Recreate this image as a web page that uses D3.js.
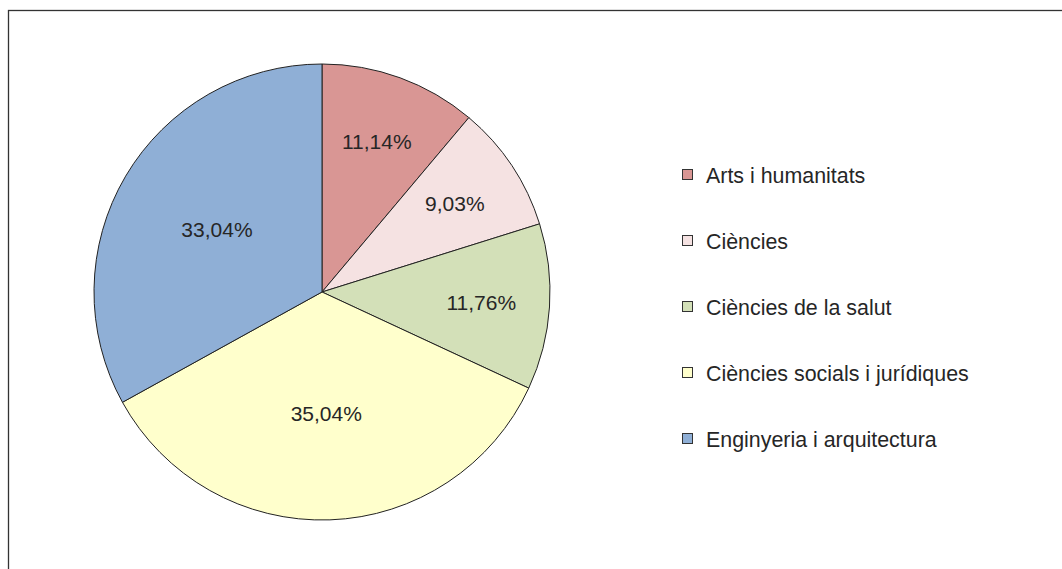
<!DOCTYPE html>
<html>
<head>
<meta charset="utf-8">
<script src="https://cdn.jsdelivr.net/npm/d3@7"></script>
<style>
  body { margin: 0; background: #fff; }
  text { font-family: "Liberation Sans", Arial, sans-serif; fill: #262626; }
</style>
</head>
<body>
<script>
// categories and shares (%)
var categories = ["Arts i humanitats", "Ciències", "Ciències de la salut",
                  "Ciències socials i jurídiques", "Enginyeria i arquitectura"];
var values = [11.14, 9.03, 11.76, 35.04, 33.04];
var labels = ["11,14%", "9,03%", "11,76%", "35,04%", "33,04%"];
var colors = ["#d99694", "#f5e2e2", "#d3e0b8", "#ffffcc", "#8fafd6"];

var width = 1062, height = 569;
var cx = 322, cy = 292, radius = 228;

var svg = d3.select("body").append("svg")
    .attr("width", width)
    .attr("height", height);

// outer frame (right and bottom edges fall outside the window)
svg.append("rect")
    .attr("x", 8.5).attr("y", 10.5)
    .attr("width", width).attr("height", height)
    .attr("fill", "none")
    .attr("stroke", "#333")
    .attr("stroke-width", 1.3);

var pie = d3.pie().sort(null).value(function(d){ return d; });
var arc = d3.arc().innerRadius(0).outerRadius(radius);
var arcs = pie(values);

var g = svg.append("g").attr("transform", "translate(" + cx + "," + cy + ")");

g.selectAll(".slice")
  .data(arcs)
  .enter()
  .append("path")
    .attr("class", "slice")
    .attr("d", arc)
    .attr("fill", function(d, i){ return colors[i]; })
    .attr("stroke", "#222")
    .attr("stroke-width", 1);

// thin slices get their label further out, wide ones near the middle
g.selectAll(".lbl")
  .data(arcs)
  .enter()
  .append("text")
    .attr("class", "lbl")
    .attr("transform", function(d){
      var span = d.endAngle - d.startAngle;
      var r = span < Math.PI / 2 ? 0.7 * radius : 0.535 * radius;
      var m = (d.startAngle + d.endAngle) / 2;
      return "translate(" + (r * Math.sin(m)) + "," + (-r * Math.cos(m)) + ")";
    })
    .attr("text-anchor", "middle")
    .attr("dy", "0.35em")
    .style("font-size", "21px")
    .text(function(d, i){ return labels[i]; });

// legend
var legend = svg.append("g").attr("transform", "translate(682,175)");
var item = legend.selectAll(".item")
  .data(categories)
  .enter()
  .append("g")
    .attr("class", "item")
    .attr("transform", function(d, i){ return "translate(0," + (i * 66) + ")"; });

item.append("rect")
    .attr("x", 0.5).attr("y", -5.5)
    .attr("width", 10).attr("height", 10)
    .attr("fill", function(d, i){ return colors[i]; })
    .attr("stroke", "#333")
    .attr("stroke-width", 1);

item.append("text")
    .attr("x", 24)
    .attr("dy", "0.35em")
    .style("font-size", "21.4px")
    .text(function(d){ return d; });
</script>
</body>
</html>
